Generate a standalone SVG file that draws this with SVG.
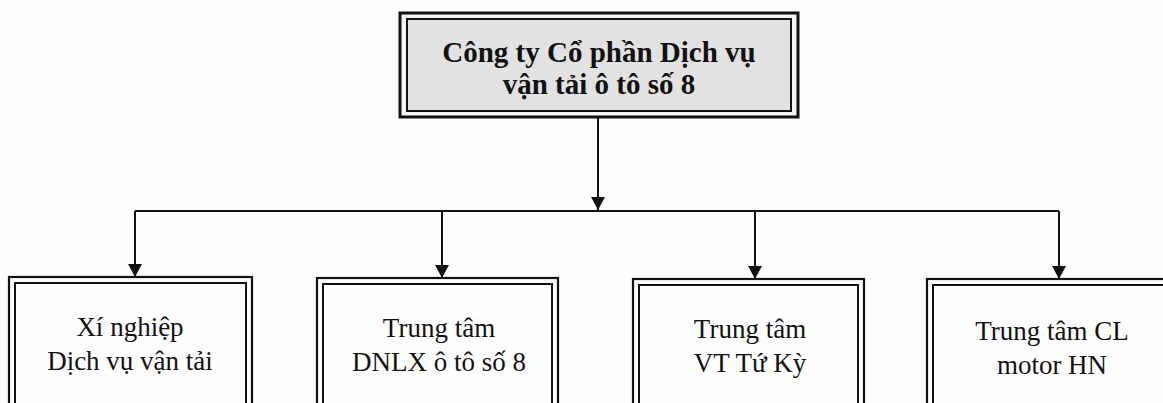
<svg xmlns="http://www.w3.org/2000/svg" width="1163" height="403" viewBox="0 0 1163 403">
<style>
.o{fill:none;stroke:#111;stroke-width:2.2}
.i{fill:none;stroke:#111;stroke-width:2}
.t{font-family:"Liberation Serif","Times New Roman",serif;font-size:27px;fill:#111;text-anchor:middle}
.tb{font-family:"Liberation Serif","Times New Roman",serif;font-size:29px;font-weight:bold;fill:#111;text-anchor:middle}
.c{fill:none;stroke:#111;stroke-width:2}
</style>
<defs>
<marker id="ad" markerUnits="userSpaceOnUse" markerWidth="14" markerHeight="14" viewBox="0 0 14 14" refX="7" refY="13" orient="0">
<path d="M0,0 L14,0 L7,13 Z" fill="#111"/>
</marker>
</defs>
<rect width="1163" height="403" fill="#fefefe"/>
<g id="connectors">
<path class="c" d="M598,117 V210" marker-end="url(#ad)"/>
<path class="c" d="M135,211 H1059"/>
<path class="c" d="M135,211 V277" marker-end="url(#ad)"/>
<path class="c" d="M442,211 V278" marker-end="url(#ad)"/>
<path class="c" d="M755,211 V279" marker-end="url(#ad)"/>
<path class="c" d="M1059,211 V279" marker-end="url(#ad)"/>
</g>
<g id="top">
<rect x="400" y="13" width="398" height="104" fill="#f4f4f4" stroke="#111" stroke-width="3"/>
<rect x="407" y="19" width="384" height="92" fill="#e2e2e2" stroke="#111" stroke-width="2"/>
<text class="tb" x="599" y="62">Công ty Cổ phần Dịch vụ</text>
<text class="tb" x="599" y="94">vận tải ô tô số 8</text>
</g>
<g id="n1">
<rect class="o" x="9" y="277" width="243" height="140"/>
<rect class="i" x="15" y="283" width="231" height="130"/>
<text class="t" x="130" y="336">Xí nghiệp</text>
<text class="t" x="130" y="370">Dịch vụ vận tải</text>
</g>
<g id="n2">
<rect class="o" x="317" y="278" width="241" height="140"/>
<rect class="i" x="323" y="284" width="229" height="130"/>
<text class="t" x="439" y="337">Trung tâm</text>
<text class="t" x="439" y="371">DNLX ô tô số 8</text>
</g>
<g id="n3">
<rect class="o" x="633" y="279" width="231" height="140"/>
<rect class="i" x="639" y="285" width="219" height="130"/>
<text class="t" x="750" y="338">Trung tâm</text>
<text class="t" x="750" y="372">VT Tứ Kỳ</text>
</g>
<g id="n4">
<rect class="o" x="927" y="279" width="250" height="140"/>
<rect class="i" x="933" y="285" width="238" height="130"/>
<text class="t" x="1052" y="340">Trung tâm CL</text>
<text class="t" x="1052" y="374">motor HN</text>
</g>
</svg>
